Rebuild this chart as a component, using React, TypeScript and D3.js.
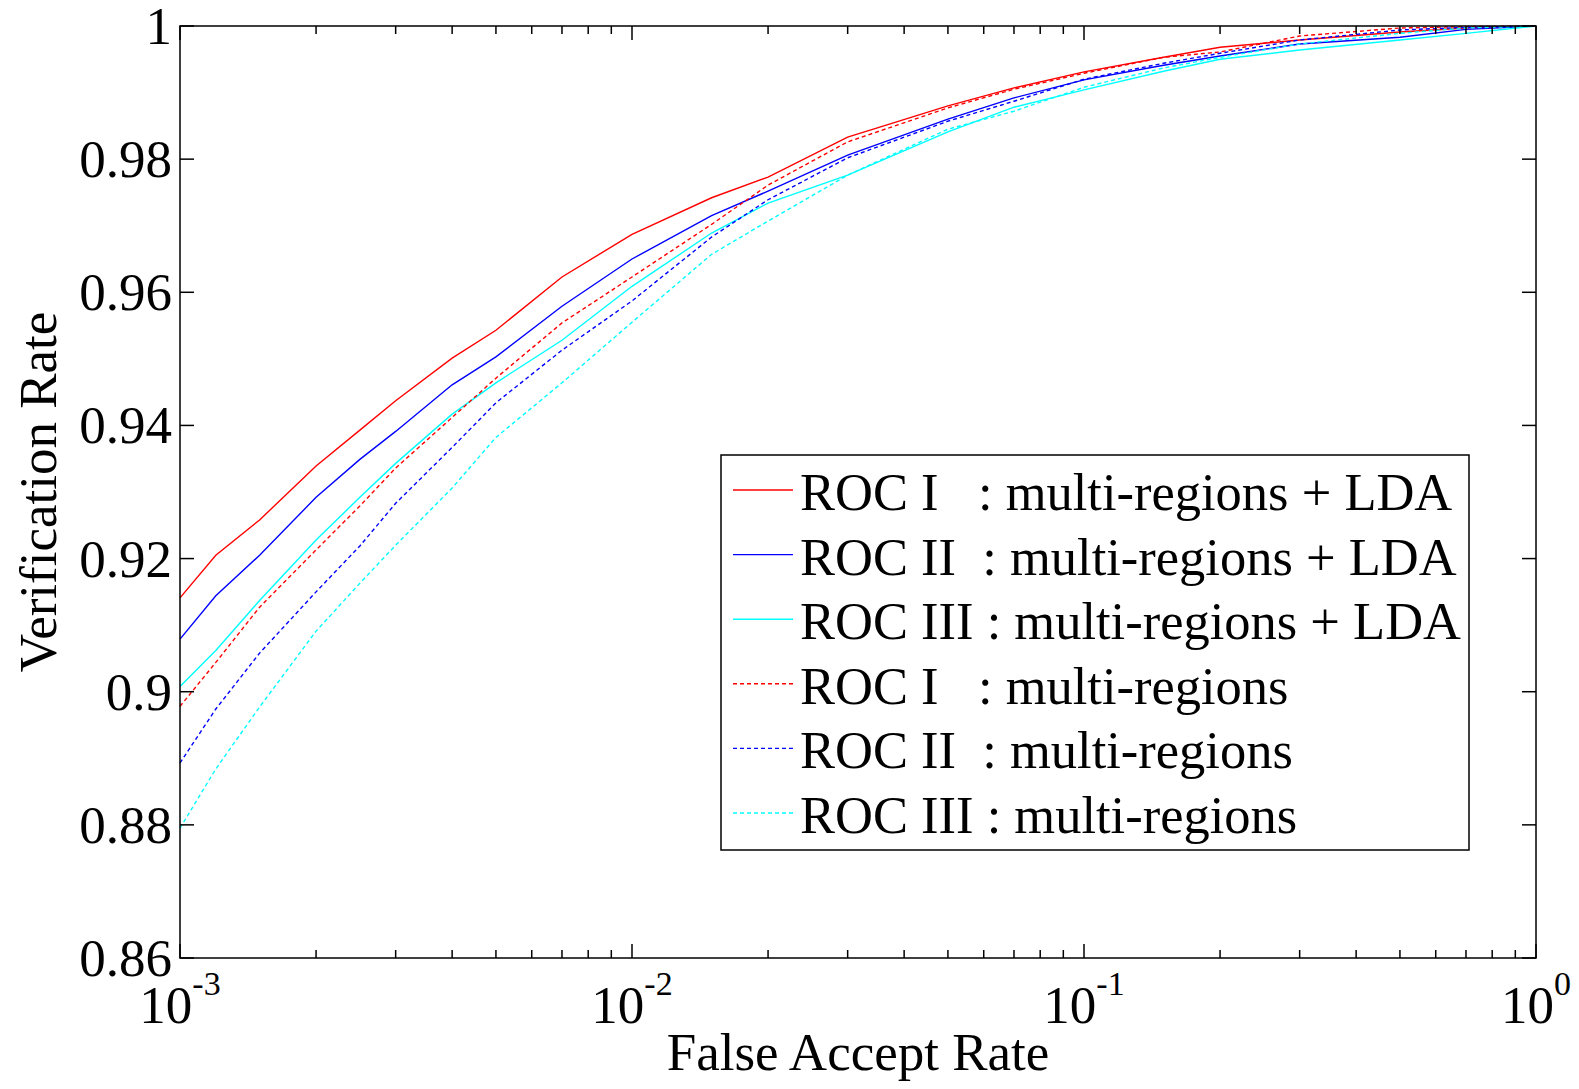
import React from "react";
import * as d3 from "d3";

const FAR = [0.001, 0.0012, 0.0015, 0.002, 0.0025, 0.003, 0.004, 0.005, 0.007, 0.01, 0.015, 0.02, 0.03, 0.05, 0.07, 0.1, 0.15, 0.2, 0.3, 0.5, 0.7, 1.0];

const roc1LDA = [0.9141, 0.9205, 0.9258, 0.9339, 0.9393, 0.9437, 0.9501, 0.9543, 0.9623, 0.9687, 0.9742, 0.9773, 0.9833, 0.9880, 0.9907, 0.9931, 0.9953, 0.9968, 0.9979, 0.9991, 0.9997, 1.0];
const roc2LDA = [0.9079, 0.9144, 0.9205, 0.9292, 0.9349, 0.9391, 0.9461, 0.9503, 0.9579, 0.9650, 0.9715, 0.9752, 0.9806, 0.9860, 0.9892, 0.9919, 0.9941, 0.9955, 0.9973, 0.9983, 0.9995, 1.0];
const roc3LDA = [0.9008, 0.9062, 0.9137, 0.9228, 0.9292, 0.9343, 0.9417, 0.9464, 0.9528, 0.9609, 0.9689, 0.9734, 0.9776, 0.9841, 0.9878, 0.9904, 0.9932, 0.9950, 0.9964, 0.9979, 0.9989, 1.0];
const roc1 = [0.8978, 0.9044, 0.9127, 0.9213, 0.9279, 0.9336, 0.9412, 0.9471, 0.9554, 0.9623, 0.9702, 0.9761, 0.9826, 0.9877, 0.9905, 0.9929, 0.9953, 0.9961, 0.9985, 0.9997, 0.9999, 1.0];
const roc2 = [0.8893, 0.8974, 0.9058, 0.9150, 0.9219, 0.9283, 0.9367, 0.9434, 0.9513, 0.9587, 0.9683, 0.9739, 0.9802, 0.9857, 0.9887, 0.9920, 0.9944, 0.9959, 0.9979, 0.9994, 0.9998, 1.0];
const roc3 = [0.8795, 0.8884, 0.8977, 0.9091, 0.9163, 0.9220, 0.9306, 0.9382, 0.9464, 0.9555, 0.9657, 0.9707, 0.9776, 0.9845, 0.9872, 0.9908, 0.9937, 0.9953, 0.9973, 0.9989, 0.9997, 1.0];

const seriesLabels = [
  "ROC I   : multi-regions + LDA",
  "ROC II  : multi-regions + LDA",
  "ROC III : multi-regions + LDA",
  "ROC I   : multi-regions",
  "ROC II  : multi-regions",
  "ROC III : multi-regions",
];
const seriesValues = [roc1LDA, roc2LDA, roc3LDA, roc1, roc2, roc3];
const seriesColors = ["#ff0000", "#0000ff", "#00ffff", "#ff0000", "#0000ff", "#00ffff"];
const seriesDashed = [false, false, false, true, true, true];

const yTicks = [0.86, 0.88, 0.9, 0.92, 0.94, 0.96, 0.98, 1];
const yTickLabels = ["0.86", "0.88", "0.9", "0.92", "0.94", "0.96", "0.98", "1"];
const xMajor = [1e-3, 1e-2, 1e-1, 1];
const xExponents = ["-3", "-2", "-1", "0"];

const W = 1579;
const H = 1089;
const L = 180, R = 1536, T = 26, B = 958;
const FONT = "'Liberation Serif', 'Times New Roman', serif";

export default function App() {
  const x = d3.scaleLog().domain([1e-3, 1]).range([L, R]);
  const y = d3.scaleLinear().domain([0.86, 1]).range([B, T]);

  const minor: number[] = [];
  [-3, -2, -1].forEach((d) => {
    for (let k = 2; k <= 9; k++) minor.push(k * Math.pow(10, d));
  });

  const line = d3
    .line<[number, number]>()
    .x((d) => x(d[0]))
    .y((d) => y(d[1]));

  const legX = 721, legY = 455, legW = 748, legH = 395;
  const rowBase0 = 510, rowStep = 64.6;

  return (
    <svg width={W} height={H} style={{ position: "absolute", left: 0, top: 0, background: "#fff" }} fontFamily={FONT}>
      <rect x={0} y={0} width={W} height={H} fill="#fff" />
      {/* curves */}
      <g>
        {seriesValues.map((vals, i) => (
          <path
            key={i}
            d={line(FAR.map((f, j) => [f, vals[j]] as [number, number])) || ""}
            fill="none"
            stroke={seriesColors[i]}
            strokeWidth={1.4}
            strokeDasharray={seriesDashed[i] ? "4,3" : undefined}
          />
        ))}
      </g>
      {/* frame */}
      <rect x={L} y={T} width={R - L} height={B - T} fill="none" stroke="#000" strokeWidth={1.5} />
      {/* y ticks */}
      {yTicks.map((v, i) => (
        <g key={"y" + i}>
          <line x1={L} x2={L + 14} y1={y(v)} y2={y(v)} stroke="#000" strokeWidth={1.5} />
          <line x1={R} x2={R - 14} y1={y(v)} y2={y(v)} stroke="#000" strokeWidth={1.5} />
          <text x={172} y={y(v) + 18} fontSize={53} textAnchor="end" fill="#000">
            {yTickLabels[i]}
          </text>
        </g>
      ))}
      {/* x major ticks */}
      {xMajor.map((v, i) => (
        <g key={"xm" + i}>
          <line x1={x(v)} x2={x(v)} y1={B} y2={B - 14} stroke="#000" strokeWidth={1.5} />
          <line x1={x(v)} x2={x(v)} y1={T} y2={T + 14} stroke="#000" strokeWidth={1.5} />
          <text x={x(v)} y={1023} fontSize={53} textAnchor="middle" fill="#000">
            <tspan>10</tspan>
            <tspan fontSize={34} dy={-28}>{xExponents[i]}</tspan>
          </text>
        </g>
      ))}
      {/* x minor ticks */}
      {minor.map((v, i) => (
        <g key={"xn" + i}>
          <line x1={x(v)} x2={x(v)} y1={B} y2={B - 8} stroke="#000" strokeWidth={1.5} />
          <line x1={x(v)} x2={x(v)} y1={T} y2={T + 8} stroke="#000" strokeWidth={1.5} />
        </g>
      ))}
      {/* axis titles */}
      <text x={(L + R) / 2} y={1070} fontSize={53} textAnchor="middle" fill="#000">
        False Accept Rate
      </text>
      <text
        transform={`translate(56, ${(T + B) / 2}) rotate(-90)`}
        fontSize={53}
        textAnchor="middle"
        fill="#000"
      >
        Verification Rate
      </text>
      {/* legend */}
      <rect x={legX} y={legY} width={legW} height={legH} fill="#fff" stroke="#000" strokeWidth={1.5} />
      {seriesLabels.map((lab, i) => {
        const by = rowBase0 + i * rowStep;
        return (
          <g key={"lg" + i}>
            <line
              x1={733}
              x2={793}
              y1={by - 20}
              y2={by - 20}
              stroke={seriesColors[i]}
              strokeWidth={1.4}
              strokeDasharray={seriesDashed[i] ? "4,3" : undefined}
            />
            <text x={800} y={by} fontSize={52.5} fill="#000" style={{ whiteSpace: "pre" }} xmlSpace="preserve">
              {lab}
            </text>
          </g>
        );
      })}
    </svg>
  );
}
